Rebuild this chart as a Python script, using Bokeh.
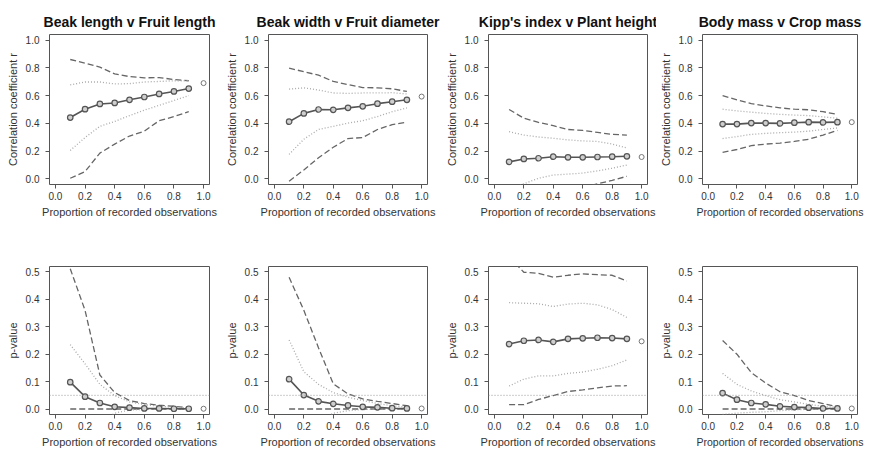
from bokeh.plotting import figure
from bokeh.models import Range1d, FixedTicker, NumeralTickFormatter, Span
from bokeh.layouts import row, column
from bokeh.embed import file_html
from bokeh.resources import INLINE

# ---------------- data ----------------
props = [0.1, 0.2, 0.3, 0.4, 0.5, 0.6, 0.7, 0.8, 0.9]
full_prop = [1.0]

titles = ["Beak length v Fruit length", "Beak width v Fruit diameter",
          "Kipp's index v Plant height", "Body mass v Crop mass"]

x_ticks = [0.0, 0.2, 0.4, 0.6, 0.8, 1.0]
r_ticks = [0.0, 0.2, 0.4, 0.6, 0.8, 1.0]
p_ticks = [0.0, 0.1, 0.2, 0.3, 0.4, 0.5]

# Correlation coefficient r
bl_r_mean = [0.442, 0.502, 0.540, 0.547, 0.570, 0.590, 0.612, 0.630, 0.651]
bl_r_hi_dash = [0.860, 0.833, 0.805, 0.756, 0.737, 0.728, 0.730, 0.716, 0.707]
bl_r_hi_dot = [0.677, 0.698, 0.698, 0.684, 0.686, 0.698, 0.702, 0.707, 0.707]
bl_r_lo_dot = [0.205, 0.298, 0.379, 0.414, 0.456, 0.495, 0.530, 0.565, 0.600]
bl_r_lo_dash = [0.005, 0.053, 0.186, 0.251, 0.309, 0.344, 0.419, 0.449, 0.484]
bl_r_full = [0.690]

bw_r_mean = [0.412, 0.472, 0.500, 0.498, 0.512, 0.523, 0.542, 0.556, 0.570]
bw_r_hi_dash = [0.798, 0.772, 0.747, 0.702, 0.679, 0.658, 0.656, 0.649, 0.630]
bw_r_hi_dot = [0.647, 0.656, 0.640, 0.619, 0.616, 0.619, 0.619, 0.621, 0.612]
bw_r_lo_dot = [0.177, 0.286, 0.356, 0.379, 0.402, 0.419, 0.449, 0.484, 0.512]
bw_r_lo_dash = [-0.016, 0.065, 0.153, 0.228, 0.291, 0.298, 0.356, 0.391, 0.409]
bw_r_full = [0.593]

ki_r_mean = [0.123, 0.144, 0.149, 0.160, 0.156, 0.156, 0.158, 0.160, 0.163]
ki_r_hi_dash = [0.500, 0.437, 0.407, 0.384, 0.356, 0.349, 0.335, 0.321, 0.316]
ki_r_hi_dot = [0.340, 0.316, 0.302, 0.293, 0.281, 0.274, 0.270, 0.251, 0.223]
ki_r_lo_dot = [-0.080, -0.035, 0.005, 0.028, 0.035, 0.042, 0.058, 0.077, 0.100]
ki_r_lo_dash = [-0.300, -0.230, -0.180, -0.140, -0.100, -0.065, -0.035, -0.010, 0.019]
ki_r_full = [0.158]

bm_r_mean = [0.395, 0.395, 0.402, 0.402, 0.400, 0.405, 0.409, 0.407, 0.409]
bm_r_hi_dash = [0.600, 0.570, 0.542, 0.526, 0.512, 0.502, 0.498, 0.484, 0.465]
bm_r_hi_dot = [0.502, 0.490, 0.481, 0.472, 0.465, 0.460, 0.456, 0.447, 0.437]
bm_r_lo_dot = [0.291, 0.305, 0.321, 0.328, 0.333, 0.337, 0.344, 0.356, 0.367]
bm_r_lo_dash = [0.191, 0.212, 0.240, 0.251, 0.258, 0.270, 0.286, 0.316, 0.349]
bm_r_full = [0.409]

# p-value
bl_p_mean = [0.098, 0.045, 0.022, 0.008, 0.005, 0.002, 0.002, 0.001, 0.001]
bl_p_hi_dash = [0.512, 0.360, 0.124, 0.060, 0.031, 0.020, 0.014, 0.010, 0.005]
bl_p_hi_dot = [0.235, 0.165, 0.090, 0.049, 0.026, 0.016, 0.010, 0.007, 0.003]
bl_p_lo_dot = [-0.300, -0.150, -0.050, -0.015, -0.004, -0.001, 0.000, 0.000, 0.000]
bl_p_lo_dash = [0.000, 0.000, 0.000, 0.000, 0.000, 0.000, 0.000, 0.000, 0.000]
bl_p_full = [0.001]

bw_p_mean = [0.109, 0.051, 0.028, 0.019, 0.013, 0.008, 0.006, 0.003, 0.002]
bw_p_hi_dash = [0.481, 0.360, 0.223, 0.092, 0.055, 0.037, 0.028, 0.020, 0.012]
bw_p_hi_dot = [0.252, 0.136, 0.090, 0.060, 0.043, 0.031, 0.020, 0.012, 0.007]
bw_p_lo_dot = [-0.300, -0.150, -0.050, -0.015, -0.006, -0.002, 0.000, 0.000, 0.000]
bw_p_lo_dash = [0.000, 0.000, 0.000, 0.000, 0.000, 0.000, 0.000, 0.000, 0.000]
bw_p_full = [0.002]

ki_p_mean = [0.237, 0.249, 0.252, 0.245, 0.256, 0.258, 0.260, 0.259, 0.256]
ki_p_hi_dash = [0.555, 0.499, 0.495, 0.481, 0.488, 0.493, 0.490, 0.488, 0.467]
ki_p_hi_dot = [0.388, 0.386, 0.384, 0.374, 0.383, 0.386, 0.380, 0.363, 0.334]
ki_p_lo_dot = [0.084, 0.109, 0.121, 0.121, 0.130, 0.135, 0.145, 0.158, 0.179]
ki_p_lo_dash = [0.016, 0.016, 0.035, 0.049, 0.064, 0.070, 0.077, 0.084, 0.085]
ki_p_full = [0.247]

bm_p_mean = [0.058, 0.034, 0.022, 0.017, 0.010, 0.007, 0.005, 0.002, 0.002]
bm_p_hi_dash = [0.250, 0.200, 0.133, 0.095, 0.063, 0.049, 0.031, 0.020, 0.008]
bm_p_hi_dot = [0.130, 0.090, 0.066, 0.049, 0.034, 0.026, 0.017, 0.010, 0.006]
bm_p_lo_dot = [-0.020, -0.015, -0.012, -0.010, -0.006, -0.003, -0.001, 0.000, 0.000]
bm_p_lo_dash = [0.000, 0.000, 0.000, 0.000, 0.000, 0.000, 0.000, 0.000, 0.000]
bm_p_full = [0.002]

p_threshold = 0.05

r_panels = [
    (bl_r_mean, bl_r_hi_dash, bl_r_hi_dot, bl_r_lo_dot, bl_r_lo_dash, bl_r_full),
    (bw_r_mean, bw_r_hi_dash, bw_r_hi_dot, bw_r_lo_dot, bw_r_lo_dash, bw_r_full),
    (ki_r_mean, ki_r_hi_dash, ki_r_hi_dot, ki_r_lo_dot, ki_r_lo_dash, ki_r_full),
    (bm_r_mean, bm_r_hi_dash, bm_r_hi_dot, bm_r_lo_dot, bm_r_lo_dash, bm_r_full),
]
p_panels = [
    (bl_p_mean, bl_p_hi_dash, bl_p_hi_dot, bl_p_lo_dot, bl_p_lo_dash, bl_p_full),
    (bw_p_mean, bw_p_hi_dash, bw_p_hi_dot, bw_p_lo_dot, bw_p_lo_dash, bw_p_full),
    (ki_p_mean, ki_p_hi_dash, ki_p_hi_dot, ki_p_lo_dot, ki_p_lo_dash, ki_p_full),
    (bm_p_mean, bm_p_hi_dash, bm_p_hi_dot, bm_p_lo_dot, bm_p_lo_dash, bm_p_full),
]

# ---------------- style ----------------
FONT = "Liberation Sans"
BOX = "#555555"
TXT = "#333333"
widths = [222, 220, 214, 208]
left_borders = [49, 45, 45, 43]
right_borders = [13, 15, 9, 7]
xlabel_sizes = ["11px", "11px", "11px", "10.5px"]


def make_panel(i, series, top):
    mean, hi_dash, hi_dot, lo_dot, lo_dash, full = series
    if top:
        yr = Range1d(-0.04, 1.04)
        h, bt, bb = 220, 34, 36
    else:
        yr = Range1d(-0.02, 0.52)
        h, bt, bb = 230, 46, 34
    p = figure(width=widths[i], height=h, x_range=Range1d(-0.04, 1.04), y_range=yr,
               output_backend="svg", toolbar_location=None,
               min_border_left=left_borders[i], min_border_right=right_borders[i],
               min_border_top=bt, min_border_bottom=bb,
               title=titles[i] if top else None)
    p.background_fill_color = "white"
    p.border_fill_color = "white"
    p.outline_line_color = BOX
    p.outline_line_width = 1
    p.xgrid.visible = False
    p.ygrid.visible = False
    if top:
        p.title.align = "center"
        p.title.text_font = FONT
        p.title.text_font_size = "14px"
        p.title.text_font_style = "bold"
        p.title.text_color = "#111111"
        p.title.standoff = 10

    for ax in (p.xaxis[0], p.yaxis[0]):
        ax.axis_line_color = None
        ax.major_tick_line_color = BOX
        ax.major_tick_in = 0
        ax.major_tick_out = 4
        ax.minor_tick_line_color = None
        ax.major_label_text_font = FONT
        ax.major_label_text_font_size = "10px"
        ax.major_label_text_color = TXT
        ax.axis_label_text_font = FONT
        ax.axis_label_text_font_style = "normal"
        ax.axis_label_text_color = TXT
        ax.formatter = NumeralTickFormatter(format="0.0")
    p.xaxis.axis_label_text_font_size = xlabel_sizes[i]
    p.yaxis.axis_label_text_font_size = "11px"
    p.xaxis.ticker = FixedTicker(ticks=x_ticks)
    p.yaxis.ticker = FixedTicker(ticks=r_ticks if top else p_ticks)
    p.xaxis.axis_label = "Proportion of recorded observations"
    p.yaxis.axis_label = "Correlation coefficient r" if top else "p-value"
    p.xaxis.major_label_standoff = 3
    p.xaxis.axis_label_standoff = 3
    p.yaxis.major_label_standoff = 6
    p.yaxis.axis_label_standoff = 4

    if not top:
        p.add_layout(Span(location=p_threshold, dimension="width",
                          line_color="#999999", line_width=1, line_dash="1 2"))

    p.line(props, hi_dash, line_color="#666666", line_width=1.3, line_dash="6 3")
    p.line(props, lo_dash, line_color="#666666", line_width=1.3, line_dash="6 3")
    p.line(props, hi_dot, line_color="#aaaaaa", line_width=1.3, line_dash="1 2")
    p.line(props, lo_dot, line_color="#aaaaaa", line_width=1.3, line_dash="1 2")
    p.line(props, mean, line_color="#555555", line_width=1.6)
    p.scatter(props, mean, marker="circle", size=5.5, line_color="#555555",
              line_width=1.2, fill_color="#cfcfcf")
    p.scatter(full_prop, full, marker="circle", size=5, line_color="#777777",
              line_width=1, fill_color="white")
    return p


top_row = row([make_panel(i, r_panels[i], True) for i in range(4)], spacing=0)
bot_row = row([make_panel(i, p_panels[i], False) for i in range(4)], spacing=0)
layout = column([top_row, bot_row], spacing=0)

open("out.html", "w").write(file_html(layout, INLINE))
